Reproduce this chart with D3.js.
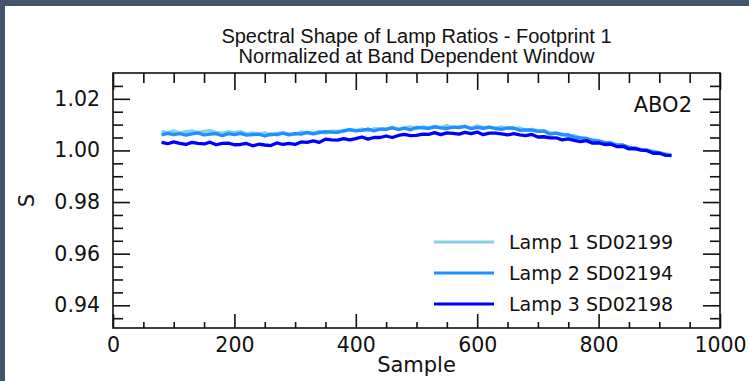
<!DOCTYPE html>
<html>
<head>
<meta charset="utf-8">
<script src="https://cdn.jsdelivr.net/npm/d3@7/dist/d3.min.js"></script>
<style>
  html, body { margin: 0; padding: 0; background: #fff; }
  svg { display: block; }
  .tick text { font-family: "DejaVu Sans", sans-serif; font-size: 20.5px; fill: #111; }
</style>
</head>
<body>
<svg id="chart" width="749" height="381"></svg>
<script>
// Sample positions (same for all three lamps)
const samples = [80, 90, 100, 110, 120, 130, 140, 150, 160, 170, 180, 190, 200, 210, 220, 230, 240, 250,
  260, 270, 280, 290, 300, 310, 320, 330, 340, 350, 360, 370, 380, 390, 400, 410, 420, 430, 440, 450,
  460, 470, 480, 490, 500, 510, 520, 530, 540, 550, 560, 570, 580, 590, 600, 610, 620, 630, 640, 650,
  660, 670, 680, 690, 700, 710, 720, 730, 740, 750, 760, 770, 780, 790, 800, 810, 820, 830, 840, 850,
  860, 870, 880, 890, 900, 910, 920];

// Normalized lamp ratio S per sample
const lamp1 = [1.0074, 1.0069, 1.0076, 1.0067, 1.0073, 1.0076, 1.0069, 1.0074, 1.0077, 1.0070, 1.0066, 1.0073,
  1.0069, 1.0073, 1.0064, 1.0068, 1.0063, 1.0068, 1.0059, 1.0066, 1.0068, 1.0065, 1.0063, 1.0072, 1.0068,
  1.0067, 1.0074, 1.0067, 1.0075, 1.0075, 1.0073, 1.0081, 1.0078, 1.0083, 1.0076, 1.0084, 1.0083, 1.0082,
  1.0090, 1.0083, 1.0087, 1.0091, 1.0084, 1.0091, 1.0088, 1.0093, 1.0088, 1.0096, 1.0088, 1.0091, 1.0093,
  1.0087, 1.0095, 1.0089, 1.0090, 1.0086, 1.0091, 1.0085, 1.0085, 1.0087, 1.0078, 1.0082, 1.0077, 1.0077,
  1.0067, 1.0067, 1.0064, 1.0056, 1.0058, 1.0049, 1.0042, 1.0043, 1.0037, 1.0030, 1.0031, 1.0022, 1.0020,
  1.0012, 1.0011, 1.0004, 1.0000, 0.9997, 0.9990, 0.9988, 0.9980];

const lamp2 = [1.0060, 1.0066, 1.0061, 1.0065, 1.0059, 1.0064, 1.0068, 1.0060, 1.0063, 1.0065, 1.0057, 1.0065,
  1.0061, 1.0066, 1.0059, 1.0061, 1.0063, 1.0056, 1.0063, 1.0061, 1.0067, 1.0060, 1.0065, 1.0063, 1.0070,
  1.0064, 1.0069, 1.0073, 1.0071, 1.0070, 1.0077, 1.0081, 1.0076, 1.0078, 1.0083, 1.0076, 1.0082, 1.0082,
  1.0087, 1.0081, 1.0086, 1.0080, 1.0089, 1.0087, 1.0085, 1.0091, 1.0087, 1.0085, 1.0090, 1.0088, 1.0093,
  1.0084, 1.0089, 1.0085, 1.0090, 1.0085, 1.0082, 1.0087, 1.0087, 1.0078, 1.0080, 1.0079, 1.0074, 1.0075,
  1.0063, 1.0067, 1.0060, 1.0061, 1.0051, 1.0049, 1.0047, 1.0037, 1.0037, 1.0030, 1.0029, 1.0020, 1.0021,
  1.0012, 1.0008, 1.0002, 1.0001, 0.9994, 0.9991, 0.9983, 0.9981];

const lamp3 = [1.0031, 1.0026, 1.0033, 1.0027, 1.0023, 1.0031, 1.0027, 1.0025, 1.0032, 1.0022, 1.0027, 1.0028,
  1.0022, 1.0023, 1.0027, 1.0018, 1.0024, 1.0021, 1.0019, 1.0029, 1.0023, 1.0027, 1.0023, 1.0033, 1.0031,
  1.0037, 1.0031, 1.0044, 1.0041, 1.0040, 1.0046, 1.0041, 1.0046, 1.0052, 1.0044, 1.0050, 1.0050, 1.0056,
  1.0050, 1.0058, 1.0062, 1.0057, 1.0058, 1.0063, 1.0062, 1.0069, 1.0061, 1.0068, 1.0066, 1.0063, 1.0070,
  1.0065, 1.0071, 1.0061, 1.0067, 1.0067, 1.0064, 1.0060, 1.0065, 1.0060, 1.0057, 1.0062, 1.0052, 1.0053,
  1.0049, 1.0049, 1.0041, 1.0045, 1.0039, 1.0034, 1.0038, 1.0028, 1.0029, 1.0023, 1.0024, 1.0015, 1.0016,
  1.0006, 1.0007, 1.0001, 0.9999, 0.9989, 0.9989, 0.9982, 0.9980];

const seriesNames = ["Lamp 1 SD02199", "Lamp 2 SD02194", "Lamp 3 SD02198"];
const seriesColors = ["#87ceeb", "#1e90ff", "#0000ff"];

// Axis ticks
const xMajorTicks = [0, 200, 400, 600, 800, 1000];
const xMinorTicks = [50, 100, 150, 250, 300, 350, 450, 500, 550, 650, 700, 750, 850, 900, 950];
const yMajorTicks = [0.94, 0.96, 0.98, 1.00, 1.02];
const yMinorTicks = [0.935, 0.945, 0.95, 0.955, 0.965, 0.97, 0.975, 0.985, 0.99, 0.995,
  1.005, 1.01, 1.015, 1.025];

const titleLines = ["Spectral Shape of Lamp Ratios - Footprint 1", "Normalized at Band Dependent Window"];
const xLabel = "Sample";
const yLabel = "S";
const panelTag = "ABO2";

const svg = d3.select("#chart");
const W = 749, H = 381;
const plot = { left: 113, right: 720, top: 73, bottom: 328 };

// page frame strips
svg.append("rect").attr("x", 0).attr("y", 0).attr("width", W).attr("height", 6).attr("fill", "#44546c");
svg.append("rect").attr("x", 0).attr("y", 0).attr("width", 5).attr("height", H).attr("fill", "#44546c");

const x = d3.scaleLinear().domain([0, 1000]).range([plot.left, plot.right]);
const y = d3.scaleLinear().domain([0.9312, 1.0300]).range([plot.bottom, plot.top]);

const axisStroke = 1.6;
function styleAxis(g) {
  g.select(".domain").remove();
  g.selectAll(".tick line").attr("stroke", "#111").attr("stroke-width", axisStroke);
}

// bottom axis
svg.append("g").attr("transform", `translate(0,${plot.bottom})`)
  .call(d3.axisBottom(x).tickValues(xMinorTicks).tickSizeInner(-6).tickSizeOuter(0).tickFormat(""))
  .call(styleAxis);
svg.append("g").attr("transform", `translate(0,${plot.bottom})`)
  .call(d3.axisBottom(x).tickValues(xMajorTicks).tickSizeInner(-14).tickSizeOuter(0).tickPadding(9)
    .tickFormat(d3.format("d")))
  .call(styleAxis);
// top axis
svg.append("g").attr("transform", `translate(0,${plot.top})`)
  .call(d3.axisTop(x).tickValues(xMinorTicks).tickSizeInner(-10).tickSizeOuter(0).tickFormat(""))
  .call(styleAxis);
svg.append("g").attr("transform", `translate(0,${plot.top})`)
  .call(d3.axisTop(x).tickValues(xMajorTicks).tickSizeInner(-17).tickSizeOuter(0).tickFormat(""))
  .call(styleAxis);
// left axis
svg.append("g").attr("transform", `translate(${plot.left},0)`)
  .call(d3.axisLeft(y).tickValues(yMinorTicks).tickSizeInner(-10).tickSizeOuter(0).tickFormat(""))
  .call(styleAxis);
svg.append("g").attr("transform", `translate(${plot.left},0)`)
  .call(d3.axisLeft(y).tickValues(yMajorTicks).tickSizeInner(-17).tickSizeOuter(0).tickPadding(13)
    .tickFormat(d3.format(".2f")))
  .call(styleAxis);
// right axis
svg.append("g").attr("transform", `translate(${plot.right},0)`)
  .call(d3.axisRight(y).tickValues(yMinorTicks).tickSizeInner(-10).tickSizeOuter(0).tickFormat(""))
  .call(styleAxis);
svg.append("g").attr("transform", `translate(${plot.right},0)`)
  .call(d3.axisRight(y).tickValues(yMajorTicks).tickSizeInner(-17).tickSizeOuter(0).tickFormat(""))
  .call(styleAxis);

// plot frame
svg.append("rect")
  .attr("x", plot.left).attr("y", plot.top)
  .attr("width", plot.right - plot.left).attr("height", plot.bottom - plot.top)
  .attr("fill", "none").attr("stroke", "#111").attr("stroke-width", axisStroke);

// lamp ratio curves
const line = d3.line().x((d, i) => x(samples[i])).y(d => y(d));
[lamp1, lamp2, lamp3].forEach((vals, k) => {
  svg.append("path")
    .datum(vals)
    .attr("d", line)
    .attr("fill", "none")
    .attr("stroke", seriesColors[k])
    .attr("stroke-width", 3.3)
    .attr("stroke-linejoin", "round");
});

// title, two lines
titleLines.forEach((t, i) => {
  svg.append("text")
    .attr("x", (plot.left + plot.right) / 2).attr("y", 42.5 + i * 20.5)
    .attr("text-anchor", "middle")
    .attr("font-family", "'Liberation Sans', Arial, sans-serif")
    .attr("font-size", 20)
    .attr("fill", "#111")
    .text(t);
});

// axis labels
svg.append("text")
  .attr("x", (plot.left + plot.right) / 2).attr("y", 372)
  .attr("text-anchor", "middle")
  .attr("font-family", "DejaVu Sans, sans-serif").attr("font-size", 21)
  .attr("fill", "#111").text(xLabel);
svg.append("text")
  .attr("transform", `translate(34,${(plot.top + plot.bottom) / 2}) rotate(-90)`)
  .attr("text-anchor", "middle")
  .attr("font-family", "DejaVu Sans, sans-serif").attr("font-size", 21)
  .attr("fill", "#111").text(yLabel);

// panel tag
svg.append("text")
  .attr("x", 692).attr("y", 112)
  .attr("text-anchor", "end")
  .attr("font-family", "DejaVu Sans, sans-serif").attr("font-size", 21)
  .attr("fill", "#111").text(panelTag);

// legend
const legend = svg.append("g");
seriesNames.forEach((name, k) => {
  const ly = 242 + k * 31;
  legend.append("line")
    .attr("x1", 434).attr("x2", 494).attr("y1", ly).attr("y2", ly)
    .attr("stroke", seriesColors[k]).attr("stroke-width", 3);
  legend.append("text")
    .attr("x", 509).attr("y", ly).attr("dy", "0.36em")
    .attr("font-family", "DejaVu Sans, sans-serif").attr("font-size", 19)
    .attr("fill", "#111").text(name);
});
</script>
</body>
</html>
